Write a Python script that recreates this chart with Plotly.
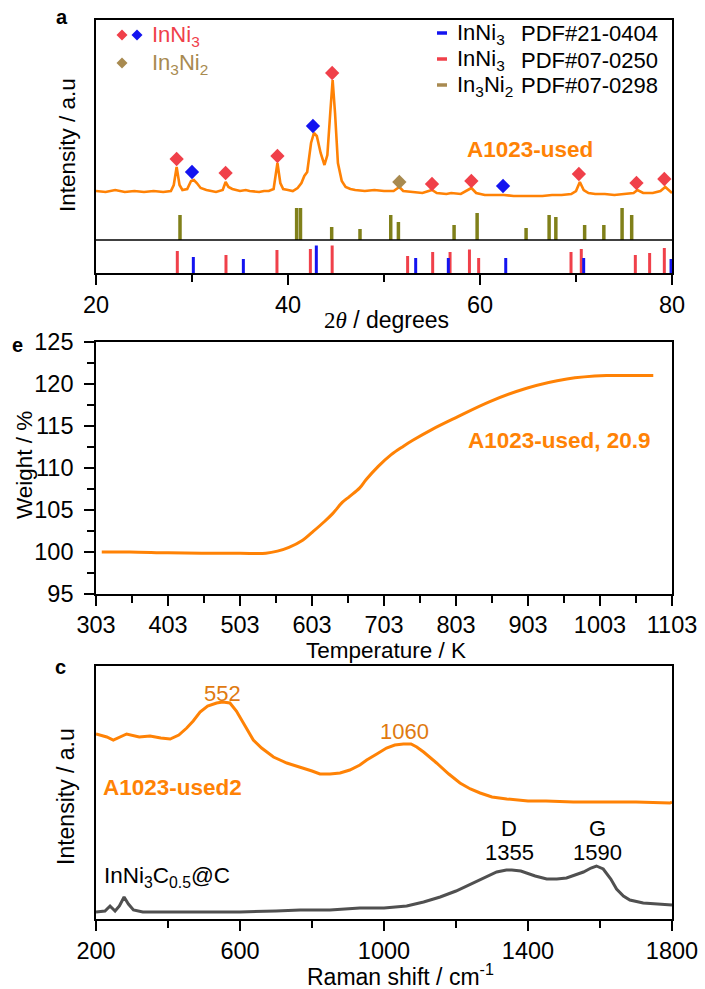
import plotly.graph_objects as go

W, H = 705, 989
def X(px): return px / W
def Y(py): return 1 - py / H

FONT = "Liberation Sans, Arial, sans-serif"
ORANGE = "#FF8205"
RED = "#F0404A"
BLUE = "#1414F0"
BROWN = "#A88A50"
OLIVE = "#80801A"
GRAY = "#505050"

# ---------------- Panel a : XRD ----------------
xrd_2theta = [20.0, 21.0, 22.0, 23.0, 24.0, 25.0, 26.0, 27.0, 27.8, 28.1, 28.4, 28.7, 29.0, 29.5, 29.9, 30.2,
              30.5, 30.9, 31.5, 32.0, 32.5, 33.2, 33.5, 33.8, 34.2, 35.0, 35.6, 36.0, 37.0, 37.5, 38.0, 38.5,
              38.9, 39.2, 39.5, 40.0, 40.5, 41.0, 41.4, 41.7, 42.0, 42.4, 42.7, 43.0, 43.4, 43.8, 44.1, 44.4,
              44.65, 44.9, 45.2, 45.6, 46.0, 46.5, 47.0, 48.0, 49.0, 50.0, 51.0, 51.6, 52.0, 53.0, 54.0, 55.0,
              55.5, 56.5, 57.0, 58.0, 59.1, 59.6, 60.5, 61.5, 62.5, 63.5, 64.5, 65.5, 66.5, 67.5, 68.5, 69.5,
              70.0, 70.4, 70.8, 71.3, 72.0, 73.0, 74.0, 75.0, 76.0, 76.4, 77.0, 78.0, 78.8, 79.3, 80.0]
xrd_intensity = [82, 81, 83, 81, 82, 81, 82, 81, 82, 88, 106, 88, 83, 84, 92, 93,
                 90, 85, 83, 82, 81, 83, 91, 86, 84, 82, 83, 82, 81, 82, 82, 84,
                 110, 90, 84, 83, 82, 85, 90, 97, 101, 130, 140, 137, 120, 108, 118, 160,
                 193, 160, 110, 92, 86, 84, 83, 82, 83, 82, 82, 86, 82, 81, 80, 83,
                 80, 79, 80, 79, 85, 80, 78, 78, 78, 77, 77, 77, 77, 78, 78, 79,
                 82, 91, 83, 80, 79, 79, 78, 79, 80, 83, 80, 80, 82, 86, 80]

# peak markers
inni3_red_2theta = [28.4, 33.5, 38.9, 44.6, 55.0, 59.1, 70.3, 76.3, 79.2]
inni3_red_height = [114, 100, 117, 200, 89, 92, 99, 90, 94]
inni3_blue_2theta = [30.0, 42.6, 62.4]
inni3_blue_height = [101, 147, 87]
in3ni2_2theta = [51.6]
in3ni2_height = [91]

# reference patterns
pdf_0298_2theta = [28.75, 40.9, 41.3, 44.55, 47.5, 50.7, 51.5, 57.3, 59.7, 64.8, 67.2, 67.9, 70.9, 72.9, 74.8, 75.8]
pdf_0298_height = [25, 32, 32, 13, 11, 25, 18, 15, 27, 12, 25, 23, 15, 15, 32, 25]
pdf_0250_2theta = [28.47, 33.54, 38.85, 42.33, 44.6, 52.46, 55.07, 56.88, 58.9, 59.86, 69.48, 70.55, 76.18, 77.67, 79.2]
pdf_0250_height = [22, 18, 23, 24, 27.5, 17, 21, 21, 23.5, 15, 21, 24, 18, 20, 25]
pdf_0404_2theta = [30.14, 35.35, 42.95, 53.3, 56.7, 62.68, 70.8, 79.9]
pdf_0404_height = [16, 14, 27.5, 15, 15, 15, 15, 14]
STICK_BASE_UPPER = 33

xrd_ticks = [20, 40, 60, 80]
xrd_minor = [30, 50, 70]

# ---------------- Panel e : TGA ----------------
tga_T = [311, 350, 403, 450, 503, 539, 555, 571, 590, 604, 620, 632, 645, 655, 669, 678, 695, 713, 730, 743,
         770, 803, 850, 901, 957, 1012, 1050, 1077]
tga_W = [100.0, 100.0, 99.9, 99.85, 99.85, 99.85, 100.1, 100.55, 101.4, 102.4, 103.6, 104.6, 105.9, 106.6,
         107.6, 108.6, 110.2, 111.6, 112.6, 113.3, 114.6, 116.0, 117.9, 119.5, 120.6, 121.0, 121.0, 121.0]
tga_xticks = [303, 403, 503, 603, 703, 803, 903, 1003, 1103]
tga_xminor = [353, 453, 553, 653, 753, 853, 953, 1053]
tga_yticks = [95, 100, 105, 110, 115, 120, 125]
tga_yminor = [97.5, 102.5, 107.5, 112.5, 117.5, 122.5]

# ---------------- Panel c : Raman ----------------
raman_used_shift = [200, 230, 248, 270, 285, 320, 350, 380, 406, 430, 452, 470, 489, 510, 535, 552, 572, 590,
                    600, 620, 637, 660, 693, 730, 767, 800, 822, 850, 878, 905, 933, 952, 980, 1007, 1030, 1054,
                    1075, 1091, 1110, 1130, 1146, 1180, 1211, 1240, 1267, 1300, 1341, 1400, 1450, 1526, 1600,
                    1700, 1794, 1800]
raman_used_int = [185, 182, 179, 183, 185, 182, 183, 181, 180, 184, 191, 198, 207, 213, 216, 217, 216, 208,
                  202, 190, 179, 171, 162, 156, 152, 148, 145, 145, 146, 149, 154, 159, 165, 171, 174, 175,
                  175, 172, 167, 161, 156, 145, 136, 130, 126, 122, 120, 118, 118, 117, 117,
                  117, 116, 117]
raman_ref_shift = [200, 225, 239, 253, 265, 278, 290, 304, 330, 400, 500, 600, 700, 767, 850, 933, 1000, 1063,
                   1110, 1156, 1200, 1248, 1290, 1313, 1340, 1355, 1380, 1396, 1420, 1452, 1480, 1507, 1530,
                   1554, 1575, 1590, 1609, 1630, 1646, 1665, 1683, 1720, 1760, 1800]
raman_ref_int = [7, 8, 13, 8, 13, 22, 15, 9, 7, 7, 7, 7, 8, 9, 9, 11, 11, 13,
                 17, 22, 28, 36, 43, 47, 49, 49, 48, 46, 43, 40, 40, 41, 44,
                 47, 51, 53, 50, 40, 30, 23, 19, 16, 15, 14]
raman_xticks = [200, 600, 1000, 1400, 1800]
raman_xminor = [400, 800, 1200, 1600]

fig = go.Figure()

def sticks(xs, hs, base):
    xx, yy = [], []
    for x, h in zip(xs, hs):
        xx += [x, x, None]
        yy += [base, base + h, None]
    return xx, yy

# panel a traces
fig.add_trace(go.Scatter(x=xrd_2theta, y=xrd_intensity, mode="lines",
                         line=dict(color=ORANGE, width=2.6), xaxis="x", yaxis="y"))
for xs, hs, base, col, wdt in [(pdf_0298_2theta, pdf_0298_height, STICK_BASE_UPPER, OLIVE, 3.5),
                               (pdf_0250_2theta, pdf_0250_height, 0, RED, 3),
                               (pdf_0404_2theta, pdf_0404_height, 0, BLUE, 3)]:
    sx, sy = sticks(xs, hs, base)
    fig.add_trace(go.Scatter(x=sx, y=sy, mode="lines", line=dict(color=col, width=wdt),
                             xaxis="x", yaxis="y"))
for xs, hs, col in [(inni3_red_2theta, inni3_red_height, RED),
                    (inni3_blue_2theta, inni3_blue_height, BLUE),
                    (in3ni2_2theta, in3ni2_height, BROWN)]:
    fig.add_trace(go.Scatter(x=xs, y=hs, mode="markers",
                             marker=dict(symbol="diamond", size=11, color=col, line=dict(width=0)),
                             xaxis="x", yaxis="y"))

# panel e
fig.add_trace(go.Scatter(x=tga_T, y=tga_W, mode="lines", line=dict(color=ORANGE, width=3, shape="spline"),
                         xaxis="x2", yaxis="y2"))
# panel c
fig.add_trace(go.Scatter(x=raman_used_shift, y=raman_used_int, mode="lines",
                         line=dict(color=ORANGE, width=3), xaxis="x3", yaxis="y3"))
fig.add_trace(go.Scatter(x=raman_ref_shift, y=raman_ref_int, mode="lines",
                         line=dict(color=GRAY, width=3), xaxis="x3", yaxis="y3"))

def ax(**kw):
    d = dict(showline=True, linecolor="black", linewidth=1.6, mirror=True, showgrid=False, zeroline=False,
             ticks="outside", tickcolor="black", tickwidth=1.6, ticklen=10, automargin=False,
             tickfont=dict(family=FONT, size=23.5, color="black"))
    d.update(kw)
    return d

MINOR = dict(ticks="outside", ticklen=7, tickwidth=1.6, tickcolor="black")
xd = [X(96), X(672)]
fig.update_layout(
    width=W, height=H, margin=dict(l=0, r=0, t=0, b=0, autoexpand=False), showlegend=False,
    paper_bgcolor="white", plot_bgcolor="white",
    xaxis=ax(domain=xd, range=[20, 80], tickvals=xrd_ticks, anchor="y", minor=dict(tickvals=xrd_minor, **MINOR)),
    yaxis=ax(domain=[Y(273), Y(20)], range=[0, 253], ticks="", showticklabels=False, anchor="x"),
    xaxis2=ax(domain=xd, range=[303, 1103], tickvals=tga_xticks, anchor="y2", ticklabelstandoff=-1,
              minor=dict(tickvals=tga_xminor, **MINOR)),
    yaxis2=ax(domain=[Y(594), Y(342)], range=[95, 125], tickvals=tga_yticks, anchor="x2", ticklabelstandoff=6,
              minor=dict(tickvals=tga_yminor, **MINOR)),
    xaxis3=ax(domain=xd, range=[200, 1800], tickvals=raman_xticks, anchor="y3",
              minor=dict(tickvals=raman_xminor, **MINOR)),
    yaxis3=ax(domain=[Y(919), Y(666)], range=[0, 253], ticks="", showticklabels=False, anchor="x3"),
)

shapes = []
# divider inside panel a
shapes.append(dict(type="line", xref="x", yref="y", x0=20, x1=80, y0=STICK_BASE_UPPER, y1=STICK_BASE_UPPER,
                   line=dict(color="black", width=1.6)))
# legend dashes
for py, col in [(33, BLUE), (59, RED), (85, BROWN)]:
    shapes.append(dict(type="line", xref="paper", yref="paper", x0=X(437), x1=X(447), y0=Y(py), y1=Y(py),
                       line=dict(color=col, width=3.5)))
# legend diamonds
def diamond(cx, cy, r, col):
    p = f"M {X(cx-r)},{Y(cy)} L {X(cx)},{Y(cy-r)} L {X(cx+r)},{Y(cy)} L {X(cx)},{Y(cy+r)} Z"
    return dict(type="path", xref="paper", yref="paper", path=p, fillcolor=col, line=dict(width=0))
shapes += [diamond(122, 35, 5.5, RED), diamond(137, 35, 5.5, BLUE), diamond(122, 63, 5.5, BROWN)]
fig.update_layout(shapes=shapes)

ann = []
def A(px, py, text, size=21, color="black", xanchor="center", bold=False, angle=0, family=FONT):
    if bold:
        text = f"<b>{text}</b>"
    ann.append(dict(x=X(px), y=Y(py), xref="paper", yref="paper", text=text, showarrow=False,
                    xanchor=xanchor, yanchor="middle", textangle=angle,
                    font=dict(family=family, size=size, color=color)))

# panel labels
A(62, 17, "a", 20, bold=True)
A(17, 345, "e", 20, bold=True)
A(60, 667, "c", 20, bold=True)
# panel a texts
A(150, 36, "InNi<sub>3</sub>", 22, RED, "left")
A(150, 64, "In<sub>3</sub>Ni<sub>2</sub>", 22, BROWN, "left")
A(455, 34, "InNi<sub>3</sub>", 22, "black", "left")
A(455, 60, "InNi<sub>3</sub>", 22, "black", "left")
A(455, 86, "In<sub>3</sub>Ni<sub>2</sub>", 22, "black", "left")
A(660, 34, "PDF#21-0404", 22, "black", "right")
A(660, 60, "PDF#07-0250", 22, "black", "right")
A(660, 86, "PDF#07-0298", 22, "black", "right")
A(530, 149, "A1023-used", 22.5, ORANGE, bold=True)
A(67, 145, "Intensity / a.u", 22.5, angle=-90)
A(386, 320, "<span style='font-family:Liberation Serif'>2<i>θ</i></span> / degrees", 23)
# panel e texts
A(559, 440, "A1023-used, 20.9", 22.5, ORANGE, bold=True)
A(24, 465, "Weight / %", 22.5, angle=-90)
A(386, 650, "Temperature / K", 22.5)
# panel c texts
A(222, 693, "552", 22, "#E07A10")
A(404, 731, "1060", 22, "#E07A10")
A(172, 787, "A1023-used2", 22.5, ORANGE, bold=True)
A(167, 877, "InNi<sub>3</sub>C<sub>0.5</sub>@C", 22.5)
A(509, 828, "D", 22)
A(509, 852, "1355", 22)
A(597, 828, "G", 22)
A(597, 852, "1590", 22)
A(66, 797, "Intensity / a.u", 23, angle=-90)
A(400, 975, "Raman shift / cm<sup>-1</sup>", 23)
fig.update_layout(annotations=ann)

fig.write_html("out.html")
